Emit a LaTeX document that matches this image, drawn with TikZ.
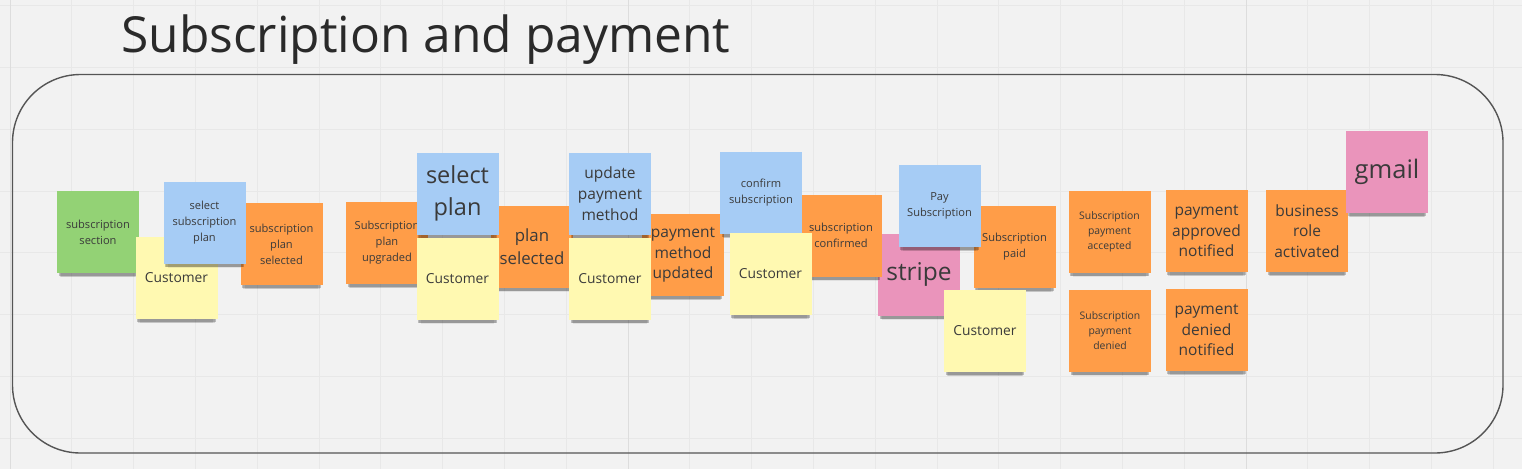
\documentclass[tikz,border=0pt]{standalone}
\usepackage{fontspec}
\setmainfont{Open Sans}
\usetikzlibrary{shadows}

\definecolor{board}{HTML}{F2F2F2}
\definecolor{gridminor}{HTML}{E8E8E8}
\definecolor{gridmajor}{HTML}{DDDDDD}
\definecolor{framecol}{HTML}{555555}
\definecolor{titlecol}{HTML}{2A2A2A}
\definecolor{notetext}{HTML}{3A3A3A}
\definecolor{notegreen}{HTML}{93D275}
\definecolor{noteyellow}{HTML}{FFF9B1}
\definecolor{noteblue}{HTML}{A6CCF5}
\definecolor{noteorange}{HTML}{FF9D48}
\definecolor{notepink}{HTML}{EA94BB}

\begin{document}
\begin{tikzpicture}[x=1pt, y=-1pt]
        \tikzset{
            sticky/.style={minimum width=82, minimum height=82, inner sep=0pt, align=center, text=notetext,
                general shadow={fill=black, opacity=.07, shadow yshift=-9pt, shadow scale=.90},
                general shadow={fill=black, opacity=.12, shadow yshift=-7pt, shadow scale=.93},
                general shadow={fill=black, opacity=.22, shadow yshift=-5pt, shadow scale=.96}},
            trigger/.style={sticky, fill=notegreen},
            actor/.style={sticky, fill=noteyellow, txtC},
            command/.style={sticky, fill=noteblue},
            event/.style={sticky, fill=noteorange},
            extsys/.style={sticky, fill=notepink},
            txtXS/.style={font=\fontsize{10.4}{15}\selectfont},
            txtS/.style={font=\fontsize{11.1}{16}\selectfont},
            txtC/.style={font=\fontsize{13.8}{18}\selectfont},
            txtM/.style={font=\fontsize{15.5}{20.7}\selectfont},
            txtL/.style={font=\fontsize{16.8}{22.7}\selectfont},
            txtXL/.style={font=\fontsize{23.5}{32}\selectfont},
            gridline/.style={draw=gridminor, line width=.8pt},
            frame/.style={draw=framecol, line width=1.4pt, rounded corners=68pt}
        }

        % Board
        \fill[board] (0,0) rectangle (1522,469);
        \useasboundingbox (0,0) rectangle (1522,469);
        \foreach \gx in {0,...,24}
            \draw[gridline] ({10+61.8*\gx},0) -- ({10+61.8*\gx},469);
        \foreach \gy in {0,...,7}
            \draw[gridline] (0,{5.5+61.8*\gy}) -- (1522,{5.5+61.8*\gy});
        \foreach \gx in {0,1,2}
            \draw[gridline, draw=gridmajor] ({10+618*\gx},0) -- ({10+618*\gx},469);

        % Frame and title
        \draw[frame] (12.5,74.5) rectangle (1503,453);
        \node[anchor=base west, inner sep=0pt, text=titlecol, font=\fontsize{49.7}{58}\selectfont] (title) at (121,52) {Subscription and payment};

        % Nodes: choose a plan
        \node[trigger, txtS] (section) at (98,232) {subscription\\section};
        \node[event, txtS] (planSelected) at (281.5,244) {subscription\\plan\\selected};
        \node[actor] (custA) at (176.5,278) {Customer};
        \node[command, txtS] (selectSubPlan) at (204.5,222.5) {select\\subscription\\plan};

        % Nodes: upgrade
        \node[event, txtS] (planUpgraded) at (387,243) {Subscription\\plan\\upgraded};
        \node[event, txtL] (planSelectedB) at (532,246.5) {plan\\selected};
        \node[command, txtXL] (selectPlan) at (457.5,193.5) {select\\plan};
        \node[actor] (custB) at (457.5,278.5) {Customer};

        % Nodes: payment method
        \node[event, txtM] (methodUpdated) at (683,255) {payment\\method\\updated};
        \node[command, txtM] (updateMethod) at (610,193.5) {update\\payment\\method};
        \node[actor] (custC) at (610,278.5) {Customer};

        % Nodes: confirm
        \node[extsys, font=\fontsize{24.5}{30}\selectfont] (stripe) at (919,274.5) {stripe};
        \node[event, txtS] (subConfirmed) at (841,235.5) {subscription\\confirmed};
        \node[command, txtS] (confirmSub) at (761,193) {confirm\\subscription};
        \node[actor] (custD) at (770.5,274) {Customer};

        % Nodes: pay
        \node[event, txtS] (subPaid) at (1014.5,247) {Subscription\\paid};
        \node[command, txtS] (paySub) at (939.5,206) {Pay\\Subscription};
        \node[actor] (custE) at (985,331) {Customer};

        % Nodes: outcome
        \node[event, txtXS] (payAccepted) at (1109.5,231.5) {Subscription\\payment\\accepted};
        \node[event, txtXS] (payDenied) at (1110,330.5) {Subscription\\payment\\denied};
        \node[event, txtM] (approvedNotified) at (1206.5,231) {payment\\approved\\notified};
        \node[event, txtM] (deniedNotified) at (1206.5,330) {payment\\denied\\notified};
        \node[event, txtM] (roleActivated) at (1307,231) {business\\role\\activated};
        \node[extsys, font=\fontsize{25.5}{30}\selectfont] (gmail) at (1387,172) {gmail};
\end{tikzpicture}
\end{document}
